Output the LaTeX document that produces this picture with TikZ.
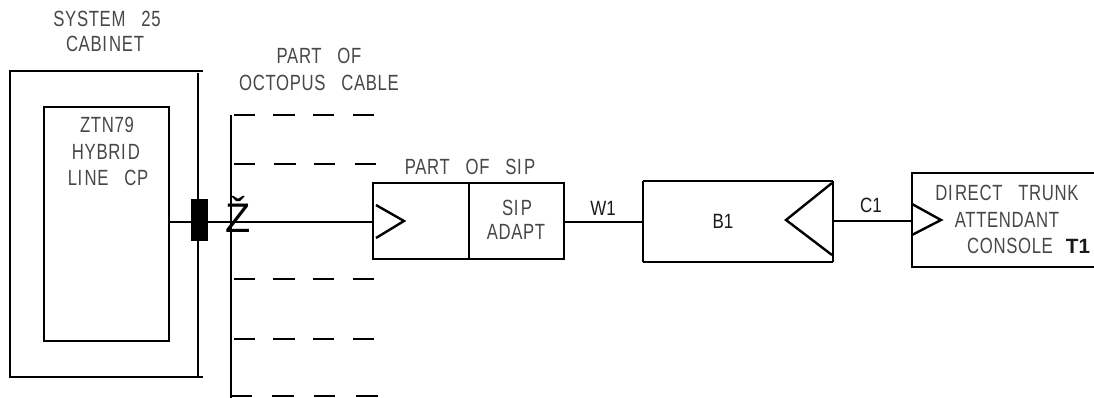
\documentclass[tikz,border=0pt]{standalone}
\usepackage{fontspec}
\setmainfont{Liberation Sans}[FakeStretch=0.76,LetterSpace=3]
\newfontfamily\zfont{Liberation Sans}
\newfontfamily\tagfont{Liberation Sans}[FakeStretch=0.82]
\newcommand{\wsp}{\hspace{0.72em}}
\newcommand{\isp}{\hspace{0.1em}}
\tikzset{
  x=0.75pt,y=-0.75pt,
  lbl/.style={inner sep=0pt,font=\fontsize{16.5pt}{16.5pt}\selectfont,text=black!72,anchor=center},
  tag/.style={inner sep=0pt,font=\tagfont\fontsize{15.5pt}{15.5pt}\selectfont,text=black!90,anchor=center},
  ln/.style={line width=1.7pt,line cap=rect},
  thin ln/.style={line width=1.3pt,line cap=butt},
}
\begin{document}
\begin{tikzpicture}
\useasboundingbox (0,0) rectangle (1094,398);
% cabinet
\coordinate (cabTL) at (10,71); \coordinate (cabTR) at (202,71);
\coordinate (cabBL) at (10,377); \coordinate (cabBR) at (202,377);
\coordinate (cabRT) at (198,73); \coordinate (cabRB) at (198,376);
\draw[ln] (cabTR) -- (cabTL) -- (cabBL) -- (cabBR);
\draw[thin ln,line width=1.7pt] (cabRT) -- (cabRB);
% hybrid card
\node[draw,line width=1.7pt,minimum width=93.75pt,minimum height=175.5pt,inner sep=0pt,anchor=north west] (cp) at (43,106) {};
% main line
\node[fill=black,minimum width=12.75pt,minimum height=31.5pt,inner sep=0pt] (plug) at (199.5,220) {};
% octopus
\coordinate (octT) at (231,115); \coordinate (octB) at (231,398);
\draw[thin ln,line width=1.5pt] (octT) -- (octB);
\foreach \yy/\a in {115/0,164/1,279/0,339/0}{
  \draw[thin ln] (234,\yy) -- (255,\yy);
  \draw[thin ln] (273+\a,\yy) -- (295+\a,\yy);
  \draw[thin ln] (313+\a,\yy) -- (334+\a,\yy);
  \draw[thin ln] (353+2*\a,\yy) -- (374+2*\a,\yy);
}
\draw[thin ln] (232,396) -- (252,396);
\draw[thin ln] (272,396) -- (294,396);
\draw[thin ln] (314,396) -- (335,396);
\draw[thin ln] (356,396) -- (378,396);
\node[inner sep=0pt,font=\zfont\fontsize{31pt}{31pt}\selectfont] (zz) at (238.5,214) {Ž};
% SIP
\node[draw,line width=1.5pt,minimum width=143.25pt,minimum height=57pt,inner sep=0pt,anchor=north west] (sip) at (372,182) {};
\coordinate (sipdivT) at (469,183); \coordinate (sipdivB) at (469,259);
\draw[thin ln,line width=1.5pt] (sipdivT) -- (sipdivB);
\coordinate (sipA) at (376,205); \coordinate (sipB) at (404,221); \coordinate (sipC) at (376,238);
\draw[line width=1.8pt] (sipA) -- (sipB) -- (sipC);
\draw[thin ln,line width=1.5pt] (cp.east |- 0,222) -- (sip.west |- 0,222);
% B1
\coordinate (bTL) at (643,181); \coordinate (bTR) at (833,181);
\coordinate (bBL) at (643,262); \coordinate (bBR) at (833,262);
\draw[line width=1.6pt] (bTL) -- (bTR);
\draw[line width=1.6pt] (bBL) -- (bBR);
\draw[line width=2.2pt] (bTL) -- (bBL);
\draw[line width=2.2pt] (bTR) -- (bBR);
\coordinate (bA) at (832,183); \coordinate (bB) at (786,220); \coordinate (bC) at (832,255);
\draw[line width=1.8pt] (bA) -- (bB) -- (bC);
\draw[thin ln,line width=1.5pt] (sip.east |- 0,222) -- (643,222);
% console
\coordinate (cTR) at (1094,173); \coordinate (cTL) at (912,173);
\coordinate (cBL) at (912,267); \coordinate (cBR) at (1094,267);
\draw[ln] (cTR) -- (cTL) -- (cBL) -- (cBR);
\coordinate (cA) at (912,204); \coordinate (cB) at (941,220); \coordinate (cC) at (912,235);
\draw[line width=1.8pt] (cA) -- (cB) -- (cC);
\draw[thin ln,line width=1.5pt] (bTR |- 0,221) -- (cTL |- 0,221);
% labels
\node[lbl] (t1) at (107,19) {SYSTEM\wsp 25};
\node[lbl] (t2) at (105,44) {CABI\isp NET};
\node[lbl] (t3) at (319,56) {PART\wsp OF};
\node[lbl] (t4) at (319,83) {OCTOPUS\wsp CABLE};
\node[lbl] (t5) at (107,125) {ZTN79};
\node[lbl] (t6) at (106,152) {HYBRI\isp D};
\node[lbl] (t7) at (108,178) {LI\isp NE\wsp CP};
\node[lbl] (t8) at (470,167) {PART\wsp OF\wsp SI\isp P};
\node[lbl] (t9) at (517,208) {SI\isp P};
\node[lbl] (t10) at (516,232) {ADAPT};
\node[tag] (w1) at (603,208) {W1};
\node[tag] (b1) at (723,221) {B1};
\node[tag] (c1) at (871,205) {C1};
\node[lbl] (t11) at (1007,193) {DI\isp RECT\wsp TRUNK};
\node[lbl] (t12) at (1007,220) {ATTENDANT};
\node[lbl] (t13) at (1010,246) {CONSOLE};
\node[tag,font=\zfont\bfseries\fontsize{15.5pt}{15.5pt}\selectfont] (t14) at (1078,246) {T1};
\end{tikzpicture}
\end{document}
